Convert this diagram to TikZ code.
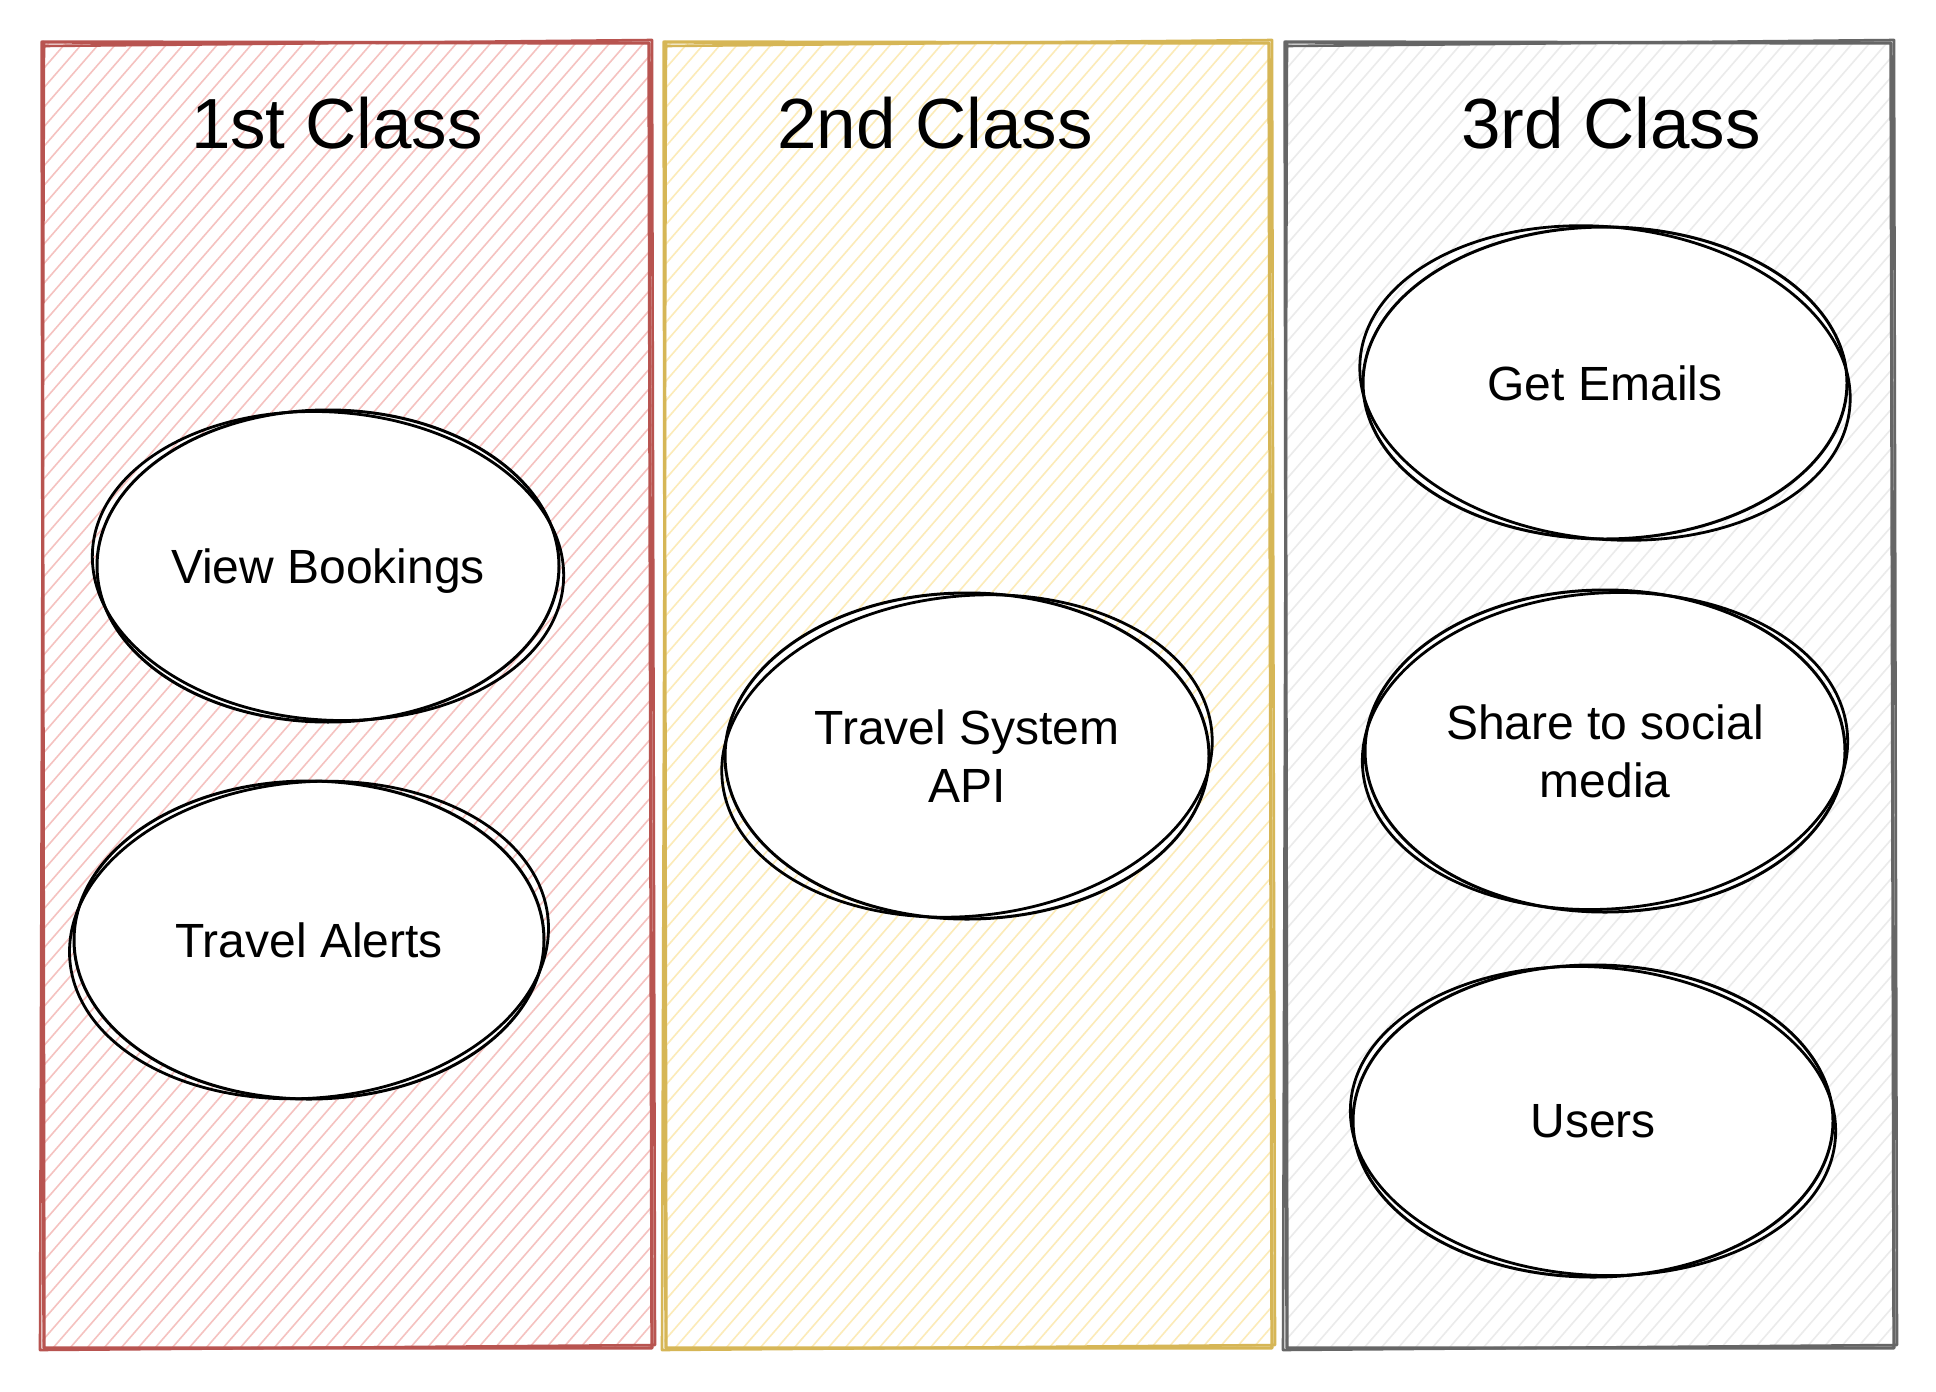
\documentclass[tikz,border=0pt]{standalone}
\usepackage{fontspec}
\setmainfont{Liberation Sans}
\usetikzlibrary{shapes.geometric}
\definecolor{redline}{HTML}{B85450}
\definecolor{redfill}{HTML}{F5C2C0}
\definecolor{yelline}{HTML}{D6B656}
\definecolor{yelfill}{HTML}{FCEBB8}
\definecolor{grayline}{HTML}{666666}
\definecolor{grayfill}{HTML}{EBEBEB}
\tikzset{
  titletext/.style={font=\fontsize{71}{80}\selectfont, text=black},
  ucase/.style={ellipse, draw=black, line width=3pt, fill=white, align=center,
    font=\fontsize{48}{58}\selectfont, inner sep=0pt, text depth=-8pt},
  sketch/.style={line width=2.8pt, black},
}
\newcommand{\hatchbox}[6]{%
  \begin{scope}
    \clip (#1,#2) rectangle (#3,#4);
    \foreach \k in {-1400,-1383,...,700} {
      \draw[#5, line width=1.6pt] (#1+\k,#4) -- ++(1400,-1610);
    }
  \end{scope}
  \draw[#6, line width=3.4pt, line join=round]
    (#1,#2) -- (#3-3,#2+1) -- (#3,#4) -- (#1+2,#4) -- cycle;
  \draw[#6, line width=2.6pt, line join=round]
    (#1+3,#2+4) -- (#3,#2-2) -- (#3+3,#4-3) -- (#1-2,#4+2) -- (#1+2,#2-1);
}
\begin{document}
\begin{tikzpicture}[x=1pt,y=-1pt]
\useasboundingbox[fill=white] (0,0) rectangle (1936,1392);
\hatchbox{42}{42}{652}{1348}{redfill}{redline}
\hatchbox{664}{42}{1272}{1348}{yelfill}{yelline}
\hatchbox{1285}{42}{1894}{1348}{grayfill}{grayline}

\node[titletext] (t1) at (337,123) {1st Class};
\node[titletext] (t2) at (935,123) {2nd Class};
\node[titletext] (t3) at (1611,123) {3rd Class};

\node[ucase, minimum width=462pt, minimum height=312pt] (vb) at (328,566) {View Bookings};
\draw[sketch] (vb.center) ellipse [x radius=236pt, y radius=154pt, rotate=-4];

\node[ucase, minimum width=470pt, minimum height=318pt] (ta) at (309,940) {Travel Alerts};
\draw[sketch] (ta.center) ellipse [x radius=240pt, y radius=158pt, rotate=5];

\node[ucase, minimum width=484pt, minimum height=326pt] (ts) at (967,756) {Travel System\\API};
\draw[sketch] (ts.center) ellipse [x radius=246pt, y radius=160pt, rotate=6];

\node[ucase, minimum width=484pt, minimum height=312pt] (ge) at (1605,383) {Get Emails};
\draw[sketch] (ge.center) ellipse [x radius=246pt, y radius=156pt, rotate=-6];

\node[ucase, minimum width=480pt, minimum height=322pt] (sm) at (1605,751) {Share to social\\media};
\draw[sketch] (sm.center) ellipse [x radius=243pt, y radius=158pt, rotate=4];

\node[ucase, minimum width=480pt, minimum height=312pt] (us) at (1593,1121) {Users};
\draw[sketch] (us.center) ellipse [x radius=243pt, y radius=154pt, rotate=-4];
\end{tikzpicture}
\end{document}
